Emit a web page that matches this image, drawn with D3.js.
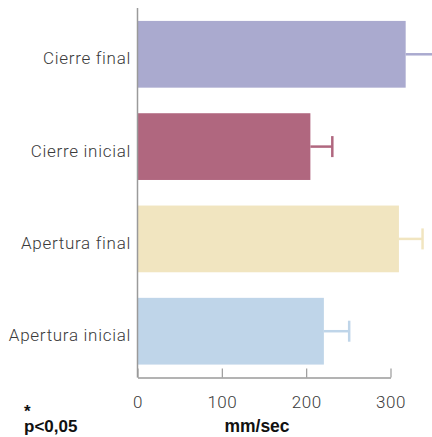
<!DOCTYPE html>
<html>
<head>
<meta charset="utf-8">
<script src="https://cdn.jsdelivr.net/npm/d3@7"></script>
<style>
  html, body { margin: 0; padding: 0; background: #fff; }
  svg { display: block; }
</style>
</head>
<body>
<svg id="chart" width="432" height="437"></svg>
<script>
// Mean velocity per movement phase (mm/sec) with its deviation
const categories = ["Cierre final", "Cierre inicial", "Apertura final", "Apertura inicial"];
const values = [318, 205, 310, 221];
const errors = [36, 26, 28, 30];
const colors = ["#aaaacf", "#b0677f", "#f1e5c0", "#bfd5e9"];
const ticks = [0, 100, 200, 300];
const axisTitle = "mm/sec";
const noteMark = "*";
const noteText = "p<0,05";

const svg = d3.select("#chart");
const plotLeft = 137.5, plotRight = 390.5, plotTop = 8, plotBottom = 377.5;

const x = d3.scaleLinear().domain([0, 300]).range([plotLeft, plotRight]);
const y = d3.scaleBand().domain(categories).range([plotTop, plotBottom])
  .paddingInner(0.277).paddingOuter(0.14);

// bars
svg.append("g").selectAll("rect")
  .data(categories)
  .join("rect")
  .attr("x", x(0))
  .attr("y", d => y(d))
  .attr("width", (d, i) => x(values[i]) - x(0))
  .attr("height", y.bandwidth())
  .attr("fill", (d, i) => colors[i]);

// error bars
const eb = svg.append("g").selectAll("g")
  .data(categories)
  .join("g")
  .attr("stroke", (d, i) => colors[i])
  .attr("stroke-width", 2.5);
eb.append("line")
  .attr("x1", (d, i) => x(values[i]))
  .attr("x2", (d, i) => x(values[i] + errors[i]))
  .attr("y1", d => y(d) + y.bandwidth() / 2)
  .attr("y2", d => y(d) + y.bandwidth() / 2);
eb.append("line")
  .attr("x1", (d, i) => x(values[i] + errors[i]))
  .attr("x2", (d, i) => x(values[i] + errors[i]))
  .attr("y1", d => y(d) + y.bandwidth() / 2 - 10.5)
  .attr("y2", d => y(d) + y.bandwidth() / 2 + 10.5);

// left axis line
svg.append("line")
  .attr("x1", plotLeft).attr("x2", plotLeft)
  .attr("y1", plotTop).attr("y2", plotBottom)
  .attr("stroke", "#9a9a9a").attr("stroke-width", 1.5);

// bottom axis
const xAxis = d3.axisBottom(x).tickValues(ticks).tickSize(-9).tickPadding(18).tickSizeOuter(0);
const gx = svg.append("g").attr("transform", `translate(0,${plotBottom})`).call(xAxis);
gx.select(".domain").attr("stroke", "#9a9a9a").attr("stroke-width", 1.5);
gx.selectAll(".tick line").attr("stroke", "#9a9a9a").attr("stroke-width", 1.2);
gx.selectAll(".tick text")
  .attr("fill", "#3a3a3a")
  .style("font-family", "Roboto, sans-serif")
  .style("font-weight", 300)
  .style("font-size", "17px")
  .style("letter-spacing", "0.5px");

// category labels
svg.append("g").selectAll("text")
  .data(categories)
  .join("text")
  .attr("x", 131)
  .attr("y", d => y(d) + y.bandwidth() / 2 + 10)
  .attr("text-anchor", "end")
  .attr("fill", "#3a3a3a")
  .style("font-family", "Roboto, sans-serif")
  .style("font-weight", 300)
  .style("font-size", "17px")
  .style("letter-spacing", "0.7px")
  .text(d => d);

// axis title
svg.append("text")
  .attr("x", 257).attr("y", 431.5)
  .attr("text-anchor", "middle")
  .attr("fill", "#111")
  .style("font-family", "'Liberation Sans', Arial, sans-serif")
  .style("font-weight", 700)
  .style("font-size", "17.5px")
  .text(axisTitle);

// significance note: asterisk above the threshold
const note = svg.append("text")
  .attr("fill", "#111")
  .style("font-family", "'Liberation Sans', Arial, sans-serif")
  .style("font-weight", 700)
  .style("font-size", "17px");
note.append("tspan").attr("x", 24).attr("y", 416.5).text(noteMark);
note.append("tspan").attr("x", 24).attr("y", 431.5).text(noteText);
</script>
</body>
</html>
